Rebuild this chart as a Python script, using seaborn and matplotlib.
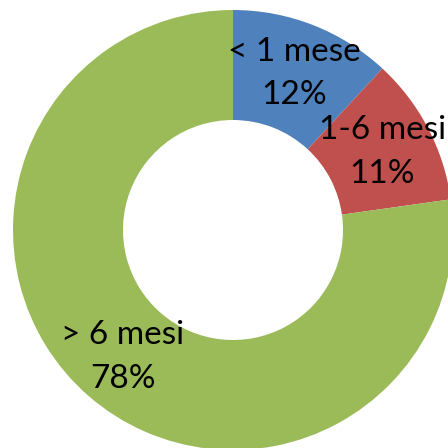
import matplotlib
matplotlib.use("Agg")
import matplotlib.pyplot as plt
import seaborn as sns

categories = ["< 1 mese", "1-6 mesi", "> 6 mesi"]
percentages = [12, 11, 78]
colors = ["#4F81BD", "#C0504D", "#9BBB59"]

sns.set_theme(style="white")
plt.rcParams["font.family"] = ["Lato", "DejaVu Sans"]

fig = plt.figure(figsize=(4.48, 4.48), dpi=100)
ax = fig.add_axes([0, 0, 1, 1])

labels = [f"{c}\n{p}%" for c, p in zip(categories, percentages)]
wedges, texts = ax.pie(
    percentages,
    labels=labels,
    colors=colors,
    startangle=90,
    counterclock=False,
    radius=1.0,
    labeldistance=0.765,
    wedgeprops=dict(width=0.5, linewidth=0),
    textprops=dict(fontsize=24, color="black", linespacing=1.55),
)
for t in texts:
    t.set_ha("center")
    t.set_va("center")

# donut centre at (233, 230) px with an outer radius of 220 px
scale = 220.0
ax.set_xlim(-233 / scale, (448 - 233) / scale)
ax.set_ylim(-(448 - 230) / scale, 230 / scale)
ax.set_aspect("auto")
ax.axis("off")

fig.savefig("out.png", dpi=100)
